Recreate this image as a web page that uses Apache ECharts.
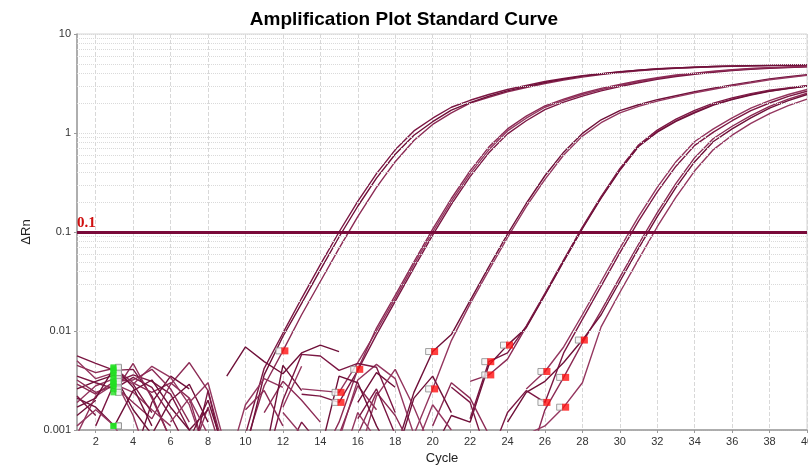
<!DOCTYPE html>
<html>
<head>
<meta charset="utf-8">
<script src="https://cdn.jsdelivr.net/npm/echarts@6/dist/echarts.min.js"></script>
<style>
  html, body { margin: 0; padding: 0; background: #fff; }
  #chart { width: 808px; height: 466px; }
</style>
</head>
<body>
<div id="chart"></div>
<script>
// amplification plot — ΔRn per cycle, log scale
const cycles = [1, 2, 3, 4, 5, 6, 7, 8, 9, 10, 11, 12, 13, 14, 15, 16, 17, 18, 19, 20,
  21, 22, 23, 24, 25, 26, 27, 28, 29, 30, 31, 32, 33, 34, 35, 36, 37, 38, 39, 40]
const xTicks = [2, 4, 6, 8, 10, 12, 14, 16, 18, 20, 22, 24, 26, 28, 30, 32, 34, 36, 38, 40]
const yMinor = [0.002, 0.003, 0.004, 0.005, 0.006, 0.007, 0.008, 0.009,
  0.02, 0.03, 0.04, 0.05, 0.06, 0.07, 0.08, 0.09,
  0.2, 0.3, 0.4, 0.5, 0.6, 0.7, 0.8, 0.9,
  2, 3, 4, 5, 6, 7, 8, 9]
const threshold = 0.1

// null = negative ΔRn (not drawn on log axis)
const curveA1 = [0.0056, 0.0047, 0.0040, 0.0041, 0.0022, 0.0008, null, null, null, 0.0009, 0.0042, 0.0095, 0.0214, 0.0468, 0.100, 0.204, 0.389, 0.676, 1.05, 1.41, 1.82, 2.14, 2.45, 2.75, 3.02, 3.31, 3.55, 3.80, 3.98, 4.17, 4.32, 4.45, 4.55, 4.62, 4.70, 4.75, 4.79, 4.82, 4.85, 4.87]
const curveA2 = [0.0045, 0.0038, 0.0042, 0.0030, 0.0024, 0.0030, 0.0021, 0.0005, null, 0.0007, 0.0028, 0.0063, 0.0146, 0.0316, 0.0684, 0.143, 0.282, 0.513, 0.841, 1.22, 1.60, 2.00, 2.29, 2.60, 2.88, 3.16, 3.43, 3.67, 3.89, 4.07, 4.25, 4.39, 4.50, 4.59, 4.67, 4.73, 4.77, 4.80, 4.83, 4.85]
const curveA3 = [0.0026, 0.0031, 0.0036, 0.0016, 0.0009, 0.0020, 0.0029, 0.0012, null, 0.0006, 0.0036, 0.0088, 0.0190, 0.0415, 0.089, 0.182, 0.350, 0.61, 0.95, 1.30, 1.70, 2.03, 2.35, 2.66, 2.94, 3.24, 3.50, 3.75, 3.95, 4.14, 4.30, 4.43, 4.54, 4.62, 4.69, 4.74, 4.78, 4.81, 4.84, 4.86]
const curveB1 = [0.0019, 0.0028, 0.0033, 0.0014, 0.0004, null, 0.0019, 0.0030, 0.0006, null, null, null, 0.0026, 0.0025, 0.0024, 0.0048, 0.0100, 0.0214, 0.0468, 0.100, 0.204, 0.389, 0.676, 1.05, 1.41, 1.82, 2.14, 2.45, 2.75, 3.02, 3.31, 3.55, 3.80, 3.98, 4.17, 4.32, 4.45, 4.55, 4.62, 4.70]
const curveB2 = [null, 0.0011, 0.0030, 0.0036, 0.0031, 0.0023, 0.0010, 0.0004, null, null, 0.0006, null, 0.0023, 0.0022, 0.0019, 0.0040, 0.0092, 0.0199, 0.0435, 0.093, 0.190, 0.362, 0.63, 0.98, 1.33, 1.72, 2.05, 2.36, 2.66, 2.94, 3.22, 3.48, 3.72, 3.92, 4.11, 4.27, 4.41, 4.51, 4.59, 4.67]
const curveB3 = [0.0032, 0.0024, 0.0028, 0.0019, 0.0013, 0.0029, 0.0048, 0.0025, 0.0005, null, null, null, null, 0.0005, 0.0012, 0.0041, 0.0107, 0.0229, 0.050, 0.107, 0.218, 0.414, 0.72, 1.10, 1.48, 1.88, 2.20, 2.52, 2.82, 3.09, 3.37, 3.61, 3.85, 4.03, 4.21, 4.36, 4.48, 4.57, 4.64, 4.71]
const curveC1 = [0.0014, 0.0020, null, 0.0005, 0.0019, 0.0035, 0.0026, null, 0.0035, 0.0069, 0.0049, 0.0037, 0.0060, 0.0072, 0.0062, null, null, 0.0006, 0.0024, 0.0062, 0.0092, 0.0203, 0.0445, 0.095, 0.194, 0.37, 0.64, 0.99, 1.36, 1.68, 1.93, 2.17, 2.38, 2.61, 2.83, 3.06, 3.28, 3.52, 3.70, 3.87]
const curveC2 = [0.0009, 0.0022, 0.0029, 0.0024, 0.0016, 0.0011, null, null, 0.0004, 0.0018, 0.0033, 0.0027, null, null, 0.0008, 0.0032, 0.0046, 0.0033, 0.0009, 0.0026, 0.0080, 0.0188, 0.041, 0.088, 0.18, 0.34, 0.60, 0.93, 1.27, 1.60, 1.86, 2.10, 2.32, 2.55, 2.77, 3.00, 3.22, 3.45, 3.64, 3.82]
const curveD1 = [0.0035, 0.0030, 0.0026, 0.0034, 0.0027, 0.0014, 0.0006, null, null, null, 0.0004, 0.0020, 0.0058, 0.0056, 0.0040, 0.0047, 0.0043, 0.0015, null, null, null, 0.0013, 0.0049, 0.0060, 0.0112, 0.024, 0.0524, 0.112, 0.228, 0.436, 0.757, 1.07, 1.38, 1.69, 2.00, 2.26, 2.50, 2.70, 2.86, 3.00]
const curveD2 = [0.0012, null, 0.0024, 0.0047, 0.0021, 0.0008, 0.0005, 0.0017, 0.0004, null, 0.0015, 0.0031, 0.0020, 0.0012, null, 0.0009, 0.0024, 0.0014, 0.0006, 0.0005, null, 0.0031, 0.0036, 0.0052, 0.0110, 0.0235, 0.0512, 0.110, 0.224, 0.428, 0.74, 1.04, 1.33, 1.63, 1.94, 2.20, 2.45, 2.66, 2.83, 2.98]
const curveD3 = [0.0021, 0.0017, 0.0011, 0.0025, 0.0032, 0.0017, 0.0010, 0.0016, null, null, 0.0005, 0.0045, 0.0025, null, null, 0.0019, 0.0038, 0.0027, null, 0.0006, 0.0014, 0.0012, 0.0045, 0.0072, 0.0108, 0.0231, 0.0505, 0.108, 0.220, 0.42, 0.73, 1.02, 1.31, 1.60, 1.91, 2.17, 2.42, 2.64, 2.81, 2.98]
const curveE1 = [0.0050, 0.0033, 0.0038, 0.0029, 0.0044, 0.0034, 0.0018, 0.0005, null, null, null, 0.0017, 0.0044, null, null, 0.0005, 0.0022, 0.0041, 0.0017, 0.0006, null, null, 0.0007, null, 0.0026, 0.0039, 0.0069, 0.0146, 0.0316, 0.0684, 0.143, 0.282, 0.513, 0.82, 1.10, 1.42, 1.78, 2.12, 2.45, 2.75]
const curveE2 = [0.0022, 0.0014, null, 0.0029, 0.0015, null, 0.0004, 0.0025, 0.0004, null, null, 0.0005, 0.0012, 0.0007, null, 0.0013, 0.0026, 0.0009, null, null, 0.0027, 0.0019, 0.0005, 0.0015, 0.0025, 0.0019, 0.0060, 0.0131, 0.0284, 0.0616, 0.129, 0.254, 0.462, 0.75, 1.02, 1.33, 1.68, 2.01, 2.34, 2.64]
const curveE3 = [0.0029, 0.0023, 0.0031, 0.0032, 0.0041, 0.0026, 0.0012, null, null, 0.0016, 0.0025, 0.0011, null, null, 0.0009, 0.0028, 0.0016, null, null, 0.0011, 0.0030, 0.0021, 0.0009, null, 0.0004, 0.0016, 0.0034, 0.0076, 0.016, 0.0348, 0.0752, 0.157, 0.31, 0.564, 0.88, 1.17, 1.50, 1.86, 2.20, 2.52]
const curveE4 = [0.0017, 0.0021, 0.0043, 0.0027, 0.0011, null, 0.0008, 0.0020, 0.0005, null, 0.0004, null, null, 0.0006, 0.0035, 0.0030, 0.0011, 0.0005, 0.0021, 0.0035, 0.0015, null, null, 0.0012, 0.0024, 0.0031, 0.0048, 0.0081, 0.0146, 0.0316, 0.0684, 0.143, 0.282, 0.513, 0.82, 1.10, 1.42, 1.78, 2.12, 2.45]
const curveE5 = [0.0011, 0.0016, 0.0011, 0.0005, null, 0.0012, 0.0021, 0.0009, null, null, null, 0.0015, 0.0009, null, 0.0004, 0.0015, 0.0008, null, 0.0006, 0.0018, 0.0010, null, 0.0004, 0.0008, 0.0009, 0.0011, 0.0017, 0.0030, 0.0110, 0.0245, 0.053, 0.113, 0.225, 0.415, 0.68, 0.95, 1.25, 1.57, 1.89, 2.20]

const curves = [curveA1, curveA2, curveA3, curveB1, curveB2, curveB3, curveC1, curveC2,
  curveD1, curveD2, curveD3, curveE1, curveE2, curveE3, curveE4, curveE5]
// baseline start / end cycle of each well
const baselineStart = 3
const baselineEnd = [null, 12, null, 15, 15, 16, 20, 20, 23, 23, 24, 26, 26, 27, 28, 27]

const lineColors = ['#7b1743', '#8c2b55', '#6f1039', '#94365f']

const chart = echarts.init(document.getElementById('chart'), null, { renderer: 'canvas' })

const pick = (cycle, i) => {
  const v = curves[i][cycle - 1]
  return v != null && v >= 0.001 ? [cycle, v] : null
}
const startPts = curves.map((c, i) => pick(baselineStart, i)).filter(Boolean)
const endPts = baselineEnd.map((e, i) => (e ? pick(e, i) : null)).filter(Boolean)

const lineSeries = curves.map((c, i) => ({
  type: 'line',
  data: cycles.map((cy, k) => [cy, c[k] == null ? '-' : c[k]]),
  showSymbol: false,
  clip: true,
  silent: true,
  z: 3,
  lineStyle: { width: 1.4, color: lineColors[i % lineColors.length] },
}))

const gridStyle = { color: '#dadada', type: 'dotted', width: 1 }

chart.setOption({
  animation: false,
  backgroundColor: '#fff',
  title: {
    text: 'Amplification Plot Standard Curve',
    left: 'center', top: 5,
    textStyle: { fontFamily: 'Liberation Sans', fontWeight: 'bold', fontSize: 19, color: '#000' },
  },
  grid: { left: 77, right: 1, top: 34, bottom: 36, show: true, borderColor: '#d4d4d4', borderWidth: 1, outerBoundsMode: 'none' },
  xAxis: {
    type: 'value', min: 1, max: 40,
    name: 'Cycle', nameLocation: 'middle', nameGap: 21,
    nameTextStyle: { fontFamily: 'Liberation Sans', fontSize: 13, color: '#222' },
    axisLine: { show: true, lineStyle: { color: '#9a9a9a', width: 1.5 } },
    axisTick: { show: true, length: 3, customValues: xTicks, lineStyle: { color: '#9a9a9a' } },
    axisLabel: { customValues: xTicks, fontFamily: 'Liberation Sans', fontSize: 11, color: '#333', margin: 6 },
    splitLine: { show: true, lineStyle: { color: '#d8d8d8', type: 'dashed', width: 1 } },
  },
  yAxis: {
    type: 'log', logBase: 10, min: 0.001, max: 10,
    name: 'ΔRn', nameLocation: 'middle', nameGap: 40,
    nameTextStyle: { fontFamily: 'Liberation Sans', fontSize: 13, color: '#222' },
    axisLine: { show: true, lineStyle: { color: '#9a9a9a', width: 1.5 } },
    axisTick: { show: true, length: 3, lineStyle: { color: '#9a9a9a' } },
    axisLabel: { fontFamily: 'Liberation Sans', fontSize: 11, color: '#333', margin: 6 },
    splitLine: { show: true, lineStyle: gridStyle },
  },
  series: [
    {
      type: 'line', data: [], z: 1, silent: true,
      markLine: {
        silent: true, symbol: 'none', label: { show: false },
        lineStyle: gridStyle,
        data: yMinor.map(v => ({ yAxis: v })),
      },
    },
    ...lineSeries,
    {
      type: 'line', data: [], z: 4, silent: true,
      markLine: {
        silent: true, symbol: 'none',
        lineStyle: { color: '#7a0a3a', width: 3, type: 'solid' },
        label: {
          show: true, position: 'insideStartTop', formatter: String(threshold),
          fontFamily: 'Liberation Serif', fontWeight: 'bold', fontSize: 15, color: '#d01010',
          distance: [0, 1],
        },
        data: [{ yAxis: threshold }],
      },
    },
    // baseline markers: grey hollow square + coloured square
    {
      type: 'scatter', data: startPts, symbol: 'rect', symbolSize: 6, symbolOffset: [4, 0], z: 5, silent: true,
      itemStyle: { color: '#f4f4f4', borderColor: '#8a8a8a', borderWidth: 1 },
    },
    {
      type: 'scatter', data: endPts, symbol: 'rect', symbolSize: 6, symbolOffset: [-4, 0], z: 5, silent: true,
      itemStyle: { color: '#f4f4f4', borderColor: '#8a8a8a', borderWidth: 1 },
    },
    {
      type: 'scatter', data: startPts, symbol: 'rect', symbolSize: 6, symbolOffset: [-1, 0], z: 6, silent: true,
      itemStyle: { color: '#22e022' },
    },
    {
      type: 'scatter', data: endPts, symbol: 'rect', symbolSize: 7, symbolOffset: [2, 0], z: 6, silent: true,
      itemStyle: { color: '#ff1010' },
    },
  ],
})
</script>
</body>
</html>
